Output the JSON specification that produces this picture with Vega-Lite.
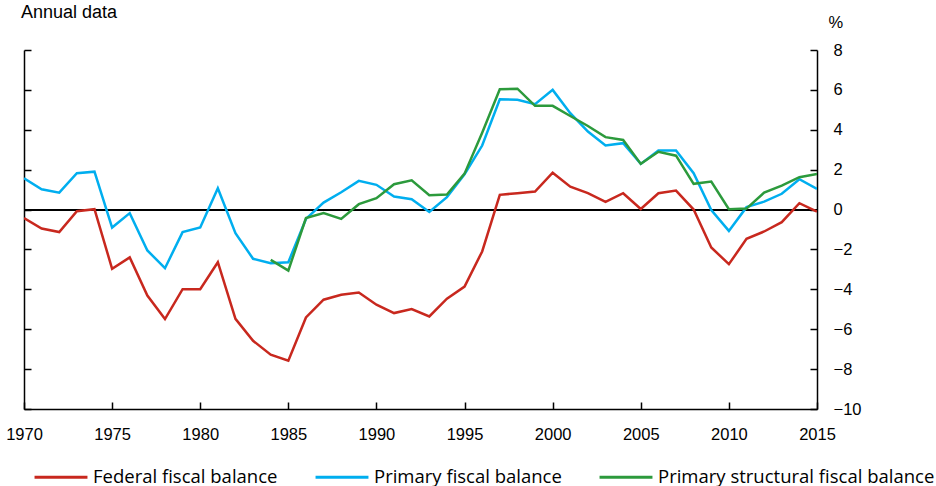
{
  "$schema": "https://vega.github.io/schema/vega-lite/v6.json",
  "width": 793,
  "height": 359,
  "autosize": "none",
  "padding": {"left": 24, "top": 50, "right": 119, "bottom": 77},
  "background": "white",
  "config": {
    "view": {"stroke": null},
    "font": "Liberation Sans"
  },
  "title": {
    "text": "Annual data",
    "anchor": "start",
    "frame": "group",
    "font": "Liberation Sans",
    "fontSize": 18,
    "fontWeight": "normal",
    "color": "#000000",
    "offset": -8,
    "dx": -3
  },
  "datasets": {
    "fiscal": [
      {"year": 1970, "series": "Federal fiscal balance", "value": -0.43},
      {"year": 1971, "series": "Federal fiscal balance", "value": -0.95},
      {"year": 1972, "series": "Federal fiscal balance", "value": -1.13},
      {"year": 1973, "series": "Federal fiscal balance", "value": -0.08},
      {"year": 1974, "series": "Federal fiscal balance", "value": 0.02},
      {"year": 1975, "series": "Federal fiscal balance", "value": -2.97},
      {"year": 1976, "series": "Federal fiscal balance", "value": -2.4},
      {"year": 1977, "series": "Federal fiscal balance", "value": -4.31},
      {"year": 1978, "series": "Federal fiscal balance", "value": -5.49},
      {"year": 1979, "series": "Federal fiscal balance", "value": -3.99},
      {"year": 1980, "series": "Federal fiscal balance", "value": -3.99},
      {"year": 1981, "series": "Federal fiscal balance", "value": -2.64},
      {"year": 1982, "series": "Federal fiscal balance", "value": -5.48},
      {"year": 1983, "series": "Federal fiscal balance", "value": -6.58},
      {"year": 1984, "series": "Federal fiscal balance", "value": -7.28},
      {"year": 1985, "series": "Federal fiscal balance", "value": -7.58},
      {"year": 1986, "series": "Federal fiscal balance", "value": -5.41},
      {"year": 1987, "series": "Federal fiscal balance", "value": -4.52},
      {"year": 1988, "series": "Federal fiscal balance", "value": -4.27},
      {"year": 1989, "series": "Federal fiscal balance", "value": -4.16},
      {"year": 1990, "series": "Federal fiscal balance", "value": -4.77},
      {"year": 1991, "series": "Federal fiscal balance", "value": -5.19},
      {"year": 1992, "series": "Federal fiscal balance", "value": -4.99},
      {"year": 1993, "series": "Federal fiscal balance", "value": -5.36},
      {"year": 1994, "series": "Federal fiscal balance", "value": -4.47},
      {"year": 1995, "series": "Federal fiscal balance", "value": -3.86},
      {"year": 1996, "series": "Federal fiscal balance", "value": -2.1},
      {"year": 1997, "series": "Federal fiscal balance", "value": 0.74},
      {"year": 1998, "series": "Federal fiscal balance", "value": 0.82},
      {"year": 1999, "series": "Federal fiscal balance", "value": 0.9},
      {"year": 2000, "series": "Federal fiscal balance", "value": 1.85},
      {"year": 2001, "series": "Federal fiscal balance", "value": 1.15},
      {"year": 2002, "series": "Federal fiscal balance", "value": 0.82},
      {"year": 2003, "series": "Federal fiscal balance", "value": 0.39},
      {"year": 2004, "series": "Federal fiscal balance", "value": 0.82},
      {"year": 2005, "series": "Federal fiscal balance", "value": 0.03},
      {"year": 2006, "series": "Federal fiscal balance", "value": 0.82},
      {"year": 2007, "series": "Federal fiscal balance", "value": 0.95},
      {"year": 2008, "series": "Federal fiscal balance", "value": 0.0},
      {"year": 2009, "series": "Federal fiscal balance", "value": -1.9},
      {"year": 2010, "series": "Federal fiscal balance", "value": -2.74},
      {"year": 2011, "series": "Federal fiscal balance", "value": -1.47},
      {"year": 2012, "series": "Federal fiscal balance", "value": -1.1},
      {"year": 2013, "series": "Federal fiscal balance", "value": -0.63},
      {"year": 2014, "series": "Federal fiscal balance", "value": 0.32},
      {"year": 2015, "series": "Federal fiscal balance", "value": -0.1},

      {"year": 1970, "series": "Primary fiscal balance", "value": 1.57},
      {"year": 1971, "series": "Primary fiscal balance", "value": 1.02},
      {"year": 1972, "series": "Primary fiscal balance", "value": 0.85},
      {"year": 1973, "series": "Primary fiscal balance", "value": 1.82},
      {"year": 1974, "series": "Primary fiscal balance", "value": 1.9},
      {"year": 1975, "series": "Primary fiscal balance", "value": -0.9},
      {"year": 1976, "series": "Primary fiscal balance", "value": -0.18},
      {"year": 1977, "series": "Primary fiscal balance", "value": -2.05},
      {"year": 1978, "series": "Primary fiscal balance", "value": -2.94},
      {"year": 1979, "series": "Primary fiscal balance", "value": -1.13},
      {"year": 1980, "series": "Primary fiscal balance", "value": -0.9},
      {"year": 1981, "series": "Primary fiscal balance", "value": 1.07},
      {"year": 1982, "series": "Primary fiscal balance", "value": -1.18},
      {"year": 1983, "series": "Primary fiscal balance", "value": -2.47},
      {"year": 1984, "series": "Primary fiscal balance", "value": -2.69},
      {"year": 1985, "series": "Primary fiscal balance", "value": -2.64},
      {"year": 1986, "series": "Primary fiscal balance", "value": -0.47},
      {"year": 1987, "series": "Primary fiscal balance", "value": 0.35},
      {"year": 1988, "series": "Primary fiscal balance", "value": 0.87},
      {"year": 1989, "series": "Primary fiscal balance", "value": 1.44},
      {"year": 1990, "series": "Primary fiscal balance", "value": 1.24},
      {"year": 1991, "series": "Primary fiscal balance", "value": 0.65},
      {"year": 1992, "series": "Primary fiscal balance", "value": 0.52},
      {"year": 1993, "series": "Primary fiscal balance", "value": -0.12},
      {"year": 1994, "series": "Primary fiscal balance", "value": 0.62},
      {"year": 1995, "series": "Primary fiscal balance", "value": 1.77},
      {"year": 1996, "series": "Primary fiscal balance", "value": 3.21},
      {"year": 1997, "series": "Primary fiscal balance", "value": 5.53},
      {"year": 1998, "series": "Primary fiscal balance", "value": 5.5},
      {"year": 1999, "series": "Primary fiscal balance", "value": 5.28},
      {"year": 2000, "series": "Primary fiscal balance", "value": 6.0},
      {"year": 2001, "series": "Primary fiscal balance", "value": 4.83},
      {"year": 2002, "series": "Primary fiscal balance", "value": 3.91},
      {"year": 2003, "series": "Primary fiscal balance", "value": 3.21},
      {"year": 2004, "series": "Primary fiscal balance", "value": 3.33},
      {"year": 2005, "series": "Primary fiscal balance", "value": 2.29},
      {"year": 2006, "series": "Primary fiscal balance", "value": 2.96},
      {"year": 2007, "series": "Primary fiscal balance", "value": 2.96},
      {"year": 2008, "series": "Primary fiscal balance", "value": 1.82},
      {"year": 2009, "series": "Primary fiscal balance", "value": -0.02},
      {"year": 2010, "series": "Primary fiscal balance", "value": -1.07},
      {"year": 2011, "series": "Primary fiscal balance", "value": 0.12},
      {"year": 2012, "series": "Primary fiscal balance", "value": 0.4},
      {"year": 2013, "series": "Primary fiscal balance", "value": 0.79},
      {"year": 2014, "series": "Primary fiscal balance", "value": 1.52},
      {"year": 2015, "series": "Primary fiscal balance", "value": 1.04},

      {"year": 1984, "series": "Primary structural fiscal balance", "value": -2.52},
      {"year": 1985, "series": "Primary structural fiscal balance", "value": -3.06},
      {"year": 1986, "series": "Primary structural fiscal balance", "value": -0.43},
      {"year": 1987, "series": "Primary structural fiscal balance", "value": -0.18},
      {"year": 1988, "series": "Primary structural fiscal balance", "value": -0.47},
      {"year": 1989, "series": "Primary structural fiscal balance", "value": 0.27},
      {"year": 1990, "series": "Primary structural fiscal balance", "value": 0.57},
      {"year": 1991, "series": "Primary structural fiscal balance", "value": 1.27},
      {"year": 1992, "series": "Primary structural fiscal balance", "value": 1.47},
      {"year": 1993, "series": "Primary structural fiscal balance", "value": 0.72},
      {"year": 1994, "series": "Primary structural fiscal balance", "value": 0.75},
      {"year": 1995, "series": "Primary structural fiscal balance", "value": 1.8},
      {"year": 1996, "series": "Primary structural fiscal balance", "value": 3.85},
      {"year": 1997, "series": "Primary structural fiscal balance", "value": 6.03},
      {"year": 1998, "series": "Primary structural fiscal balance", "value": 6.06},
      {"year": 1999, "series": "Primary structural fiscal balance", "value": 5.2},
      {"year": 2000, "series": "Primary structural fiscal balance", "value": 5.2},
      {"year": 2001, "series": "Primary structural fiscal balance", "value": 4.69},
      {"year": 2002, "series": "Primary structural fiscal balance", "value": 4.19},
      {"year": 2003, "series": "Primary structural fiscal balance", "value": 3.63},
      {"year": 2004, "series": "Primary structural fiscal balance", "value": 3.49},
      {"year": 2005, "series": "Primary structural fiscal balance", "value": 2.29},
      {"year": 2006, "series": "Primary structural fiscal balance", "value": 2.9},
      {"year": 2007, "series": "Primary structural fiscal balance", "value": 2.7},
      {"year": 2008, "series": "Primary structural fiscal balance", "value": 1.29},
      {"year": 2009, "series": "Primary structural fiscal balance", "value": 1.4},
      {"year": 2010, "series": "Primary structural fiscal balance", "value": 0.02},
      {"year": 2011, "series": "Primary structural fiscal balance", "value": 0.05},
      {"year": 2012, "series": "Primary structural fiscal balance", "value": 0.85},
      {"year": 2013, "series": "Primary structural fiscal balance", "value": 1.2},
      {"year": 2014, "series": "Primary structural fiscal balance", "value": 1.62},
      {"year": 2015, "series": "Primary structural fiscal balance", "value": 1.79}
    ]
  },
  "data": {"name": "fiscal"},
  "resolve": {"axis": {"y": "independent"}},
  "layer": [
    {
      "mark": {"type": "rule", "color": "#000000", "strokeWidth": 1.3},
      "encoding": {
        "y": {
          "datum": 0,
          "type": "quantitative",
          "scale": {"domain": [-10, 8], "nice": false, "zero": false},
          "axis": {
            "orient": "left",
            "labels": false,
            "title": null,
            "grid": false,
            "values": [-10, -8, -6, -4, -2, 0, 2, 4, 6, 8],
            "domainColor": "#000000",
            "domainWidth": 1.5,
            "tickColor": "#000000",
            "tickWidth": 1.5,
            "tickSize": -7
          }
        }
      }
    },
    {
      "mark": {"type": "line", "strokeWidth": 2.5, "strokeJoin": "miter", "clip": true},
      "encoding": {
        "x": {
          "field": "year",
          "type": "quantitative",
          "scale": {"domain": [1970, 2015], "nice": false, "zero": false},
          "axis": {
            "orient": "bottom",
            "title": null,
            "grid": false,
            "values": [1970, 1975, 1980, 1985, 1990, 1995, 2000, 2005, 2010, 2015],
            "format": "d",
            "domainColor": "#000000",
            "domainWidth": 1.5,
            "tickColor": "#000000",
            "tickWidth": 1.5,
            "tickSize": -7,
            "labelFont": "Liberation Sans",
            "labelFontSize": 16.5,
            "labelColor": "#000000",
            "labelPadding": 24,
            "labelFlush": false,
            "labelOverlap": false
          }
        },
        "y": {
          "field": "value",
          "type": "quantitative",
          "scale": {"domain": [-10, 8], "nice": false, "zero": false},
          "axis": {
            "orient": "right",
            "grid": false,
            "values": [-10, -8, -6, -4, -2, 0, 2, 4, 6, 8],
            "domainColor": "#000000",
            "domainWidth": 1.5,
            "tickColor": "#000000",
            "tickWidth": 1.5,
            "tickSize": -7,
            "labelFont": "Liberation Sans",
            "labelFontSize": 16.5,
            "labelColor": "#000000",
            "labelAlign": "left",
            "labelPadding": 23,
            "labelFlush": false,
            "labelOverlap": false,
            "title": "%",
            "titleAngle": 0,
            "titleFont": "Liberation Sans",
            "titleFontSize": 16.5,
            "titleFontWeight": "normal",
            "titleColor": "#000000",
            "titleAlign": "left",
            "titleBaseline": "middle",
            "titleX": 11,
            "titleY": -28
          }
        },
        "color": {
          "field": "series",
          "type": "nominal",
          "scale": {
            "domain": ["Federal fiscal balance", "Primary fiscal balance", "Primary structural fiscal balance"],
            "range": ["#C8281E", "#00AEEF", "#2C9A3C"]
          },
          "legend": {
            "title": null,
            "orient": "none",
            "direction": "horizontal",
            "legendX": 9,
            "legendY": 399,
            "symbolType": "stroke",
            "symbolSize": 2800,
            "symbolStrokeWidth": 3,
            "labelFont": "Open Sans",
            "labelFontSize": 18.5,
            "labelColor": "#000000",
            "labelOffset": 4,
            "columnPadding": 31,
            "labelLimit": 400
          }
        }
      }
    }
  ]
}
